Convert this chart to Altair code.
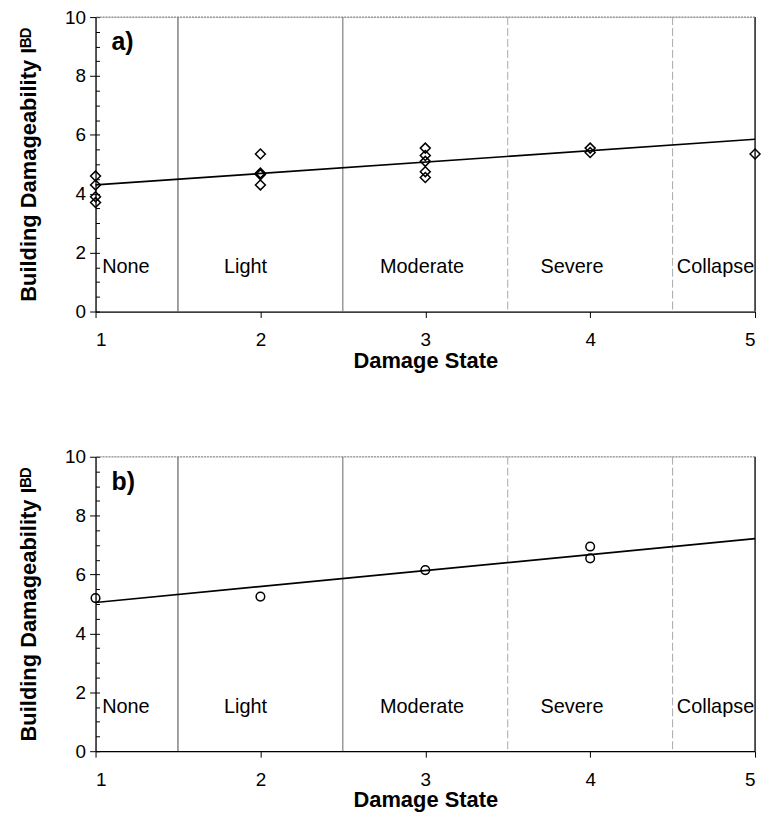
import altair as alt
import pandas as pd

# ---- data ----
a_state = [1, 1, 1, 1, 2, 2, 2, 2, 3, 3, 3, 3, 3, 4, 4, 5]
a_value = [4.6, 4.3, 3.9, 3.7, 5.35, 4.7, 4.65, 4.3, 5.55, 5.3, 5.1, 4.75, 4.55, 5.55, 5.4, 5.35]
a_fit_state = [1, 5]
a_fit_value = [4.3, 5.85]

b_state = [1, 2, 3, 4, 4]
b_value = [5.2, 5.25, 6.15, 6.95, 6.55]
b_fit_state = [1, 5]
b_fit_value = [5.05, 7.22]

dividers_solid = [1.5, 2.5]
dividers_dashed = [3.5, 4.5]
region_names = ["None", "Light", "Moderate", "Severe", "Collapse"]
region_anchor = [1.04, 1.91, 2.98, 3.89, 4.995]
region_align = ["left", "center", "center", "center", "right"]
region_level = 1.5

y_major = [0, 2, 4, 6, 8, 10]
y_minor = [i * 0.5 for i in range(21)]
x_ticks = [1, 2, 3, 4, 5]

FONT = "Liberation Sans"
W, H = 663, 296

xs = alt.Scale(domain=[1, 5], nice=False)
ys = alt.Scale(domain=[0, 10], nice=False)

x_axis = alt.Axis(values=x_ticks, format="d", title="Damage State",
                  tickSize=6, labelPadding=13, titlePadding=1,
                  titleFontSize=22, titleFontWeight="bold",
                  labelFontSize=19, domainColor="black", tickColor="black",
                  domainWidth=1.3, grid=False)


def panel(states, values, fit_s, fit_v, shape, size, tag):
    pts = pd.DataFrame({"s": states, "v": values})
    fit = pd.DataFrame({"s": fit_s, "v": fit_v})

    solid = alt.Chart(pd.DataFrame({"d": dividers_solid, "k": ["a", "b"]})).mark_rule(
        strokeWidth=1).encode(
        x=alt.X("d:Q", scale=xs, axis=x_axis),
        color=alt.Color("k:N", scale=alt.Scale(domain=["a", "b"], range=["#444444", "#666666"]), legend=None))
    dashed = alt.Chart(pd.DataFrame({"d": dividers_dashed})).mark_rule(
        strokeWidth=1, color="#a8a8a8", strokeDash=[8, 3]).encode(
        x=alt.X("d:Q", scale=xs, axis=x_axis))
    right = alt.Chart(pd.DataFrame({"d": [5]})).mark_rule(
        strokeWidth=1.3, color="black").encode(
        x=alt.X("d:Q", scale=xs, axis=x_axis))
    top = alt.Chart(pd.DataFrame({"v": [10]})).mark_rule(
        strokeWidth=1.2, color="#888888", strokeDash=[2, 1]).encode(
        y=alt.Y("v:Q", scale=ys, axis=None))

    line = alt.Chart(fit).mark_line(color="black", strokeWidth=1.7).encode(
        x=alt.X("s:Q", scale=xs, axis=x_axis),
        y=alt.Y("v:Q", scale=ys, axis=None))

    points = alt.Chart(pts).mark_point(shape=shape, filled=False, color="black",
                                       strokeWidth=1.5, size=size, opacity=1).encode(
        x=alt.X("s:Q", scale=xs, axis=x_axis),
        y=alt.Y("v:Q", scale=ys, axis=alt.Axis(
            values=y_major, title="Building Damageability Iᴮᴰ",
            titleFontSize=22, titleFontWeight="bold", titlePadding=24,
            labelFontSize=19, tickSize=6, labelPadding=4, domainColor="black",
            domainWidth=1.3, tickColor="black", grid=False)))

    minor = alt.Chart(pd.DataFrame({"v": y_minor})).mark_point(opacity=0).encode(
        y=alt.Y("v:Q", scale=ys, axis=alt.Axis(
            orient="right", offset=-W, values=y_minor, labels=False, title=None,
            domain=False, tickSize=4, tickColor="black", grid=False)))

    texts = []
    for nm, a, al in zip(region_names, region_anchor, region_align):
        texts.append(alt.Chart(pd.DataFrame({"s": [a], "v": [region_level], "name": [nm]})).mark_text(
            fontSize=20, font=FONT, color="black", align=al).encode(
            x=alt.X("s:Q", scale=xs, axis=x_axis),
            y=alt.Y("v:Q", scale=ys, axis=None),
            text="name:N"))

    tag_mark = alt.Chart(pd.DataFrame({"t": [tag]})).mark_text(
        fontSize=25, fontWeight="bold", font=FONT, align="left", baseline="alphabetic").encode(
        x=alt.value(16), y=alt.value(33), text="t:N")

    return alt.layer(solid, dashed, right, top, line, points, minor, *texts, tag_mark).resolve_axis(
        y="independent").properties(width=W, height=H)


pa = panel(a_state, a_value, a_fit_state, a_fit_value, "diamond", 100, "a)")
pb = panel(b_state, b_value, b_fit_state, b_fit_value, "circle", 75, "b)")

chart = alt.vconcat(pa, pb, spacing=75).configure_view(stroke=None).configure(
    font=FONT).configure_axis(labelFont=FONT, titleFont=FONT, labelColor="black",
                              titleColor="black").properties(
    padding={"top": -3, "left": 9, "right": -1, "bottom": -1})

chart.save("out.html", embed_options={"renderer": "svg", "actions": False})
